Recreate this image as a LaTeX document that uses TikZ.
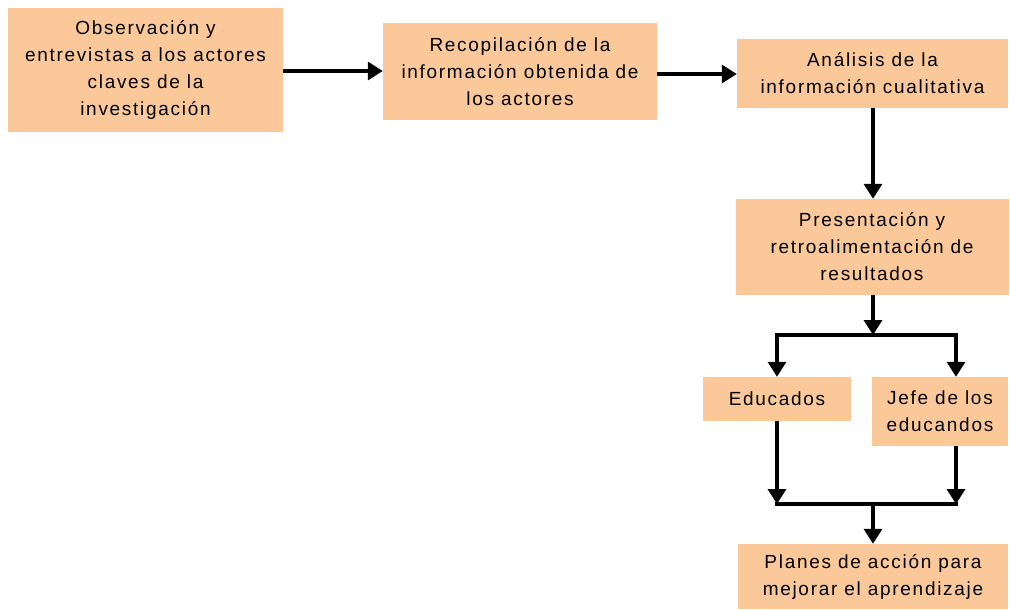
\documentclass[tikz,border=0pt]{standalone}
\usepackage{fontspec}
\setmainfont{Liberation Sans}
\newfontfamily\boxfont{Liberation Sans}[LetterSpace=9]
\usetikzlibrary{arrows.meta}
\definecolor{peach}{RGB}{251,201,153}
\tikzset{
  box/.style={fill=peach, inner sep=0pt, align=center, font=\boxfont\fontsize{19}{27}\selectfont},
  conn/.style={line width=3.4pt, -{Triangle[width=18pt,length=15pt]}},
  plain/.style={line width=3.4pt}
}
\begin{document}
\begin{tikzpicture}[x=1pt,y=-1pt]
\useasboundingbox (0,0) rectangle (1010,610);
\node[box, minimum width=275pt, minimum height=124pt] (b1) at (145.5,70) {Observación y\\entrevistas a los actores\\claves de la\\investigación};
\node[box, minimum width=274pt, minimum height=97pt] (b2) at (520,71.5) {Recopilación de la\\información obtenida de\\los actores};
\node[box, minimum width=271pt, minimum height=69pt] (b3) at (872.5,73.5) {Análisis de la\\información cualitativa};
\node[box, minimum width=273pt, minimum height=96pt] (b4) at (872,247) {Presentación y\\retroalimentación de\\resultados};
\node[box, minimum width=148pt, minimum height=44pt] (b5) at (777,399) {Educados};
\node[box, minimum width=136pt, minimum height=69pt] (b6) at (940,411.5) {Jefe de los\\educandos};
\node[box, minimum width=270pt, minimum height=65pt] (b7) at (873,576.5) {Planes de acción para\\mejorar el aprendizaje};
\coordinate (j1) at (873,335);
\coordinate (j1l) at (777,335);
\coordinate (j1r) at (956,335);
\coordinate (j2) at (873,504);
\coordinate (j2l) at (777,504);
\coordinate (j2r) at (956,504);
\draw[conn] (b1.east |- 0,71) -- (b2.west |- 0,71);
\draw[conn] (b2.east |- 0,74) -- (b3.west |- 0,74);
\draw[conn] (b3.south -| j1) -- (b4.north -| j1);
\draw[conn] (b4.south -| j1) -- (j1);
\draw[plain] ([xshift=-1.7pt]j1l) -- ([xshift=1.7pt]j1r);
\draw[conn] (j1l) -- (j1l |- b5.north);
\draw[conn] (j1r) -- (j1r |- b6.north);
\draw[conn] (b5.south -| j2l) -- (j2l);
\draw[conn] (b6.south -| j2r) -- (j2r);
\draw[plain] ([xshift=-1.7pt]j2l) -- ([xshift=1.7pt]j2r);
\draw[conn] (j2) -- (j2 |- b7.north);
\end{tikzpicture}
\end{document}
